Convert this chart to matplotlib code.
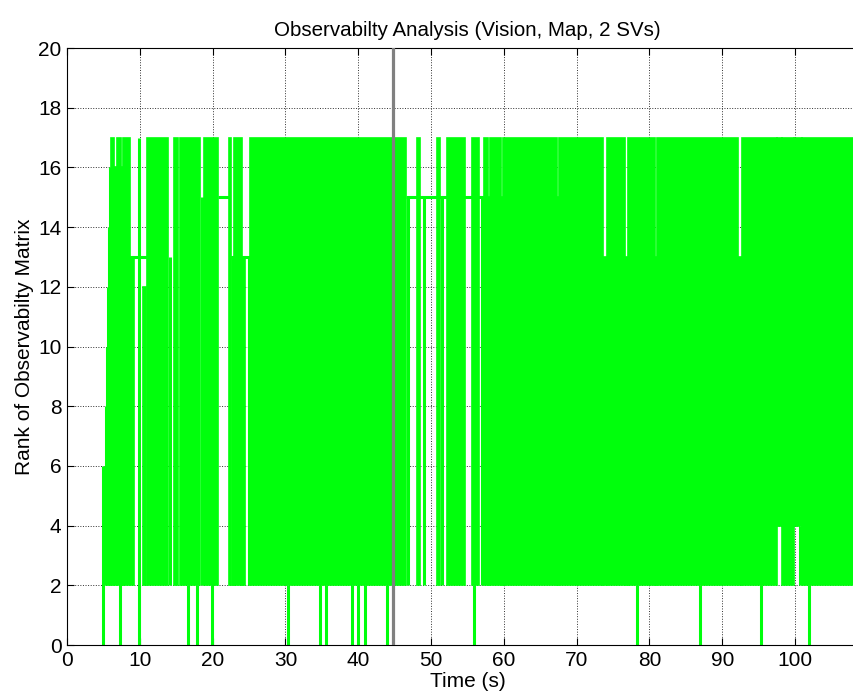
import numpy as np
import matplotlib
matplotlib.use("Agg")
import matplotlib.pyplot as plt

plt.rcParams['font.family'] = ['Liberation Sans', 'DejaVu Sans']

# rank switches fast between 2 and 17, so the dense stretches are kept as blocks (start, end, low, high)
block_start = [6.0, 6.45, 6.9, 7.45, 7.7, 8.6, 10.5, 10.95, 14.7, 15.5, 18.8, 22.3, 22.6, 23.0, 24.0,
               25.1, 48.1, 50.8, 52.2, 55.6, 57.3, 57.8, 58.1, 59.6, 59.9, 67.3, 67.6, 73.6, 74.2,
               76.7, 77.0, 80.8, 81.0, 92.2, 92.7, 97.5, 98.2, 99.9, 101.0]
block_end = [6.45, 6.9, 7.45, 7.7, 8.6, 9.2, 10.8, 13.8, 15.3, 18.3, 20.8, 22.5, 23.0, 24.0, 24.5,
             46.5, 48.5, 51.2, 54.7, 56.6, 57.8, 58.1, 59.6, 59.9, 67.3, 67.6, 73.6, 74.2, 76.7,
             77.0, 80.8, 81.0, 92.2, 92.7, 97.5, 98.2, 99.9, 101.0, 108.5]
block_low = [2, 2, 2, 2, 2, 2, 2, 2, 2, 2, 2, 2, 2, 2, 2,
             2, 2, 2, 2, 2, 2, 2, 2, 2, 2, 2, 2, 2, 2,
             2, 2, 2, 2, 2, 2, 4, 2, 4, 2]
block_high = [17, 16, 17, 16, 17, 13, 12, 17, 17, 17, 17, 17, 13, 17, 13,
              17, 17, 17, 17, 17, 17, 15, 17, 15, 17, 15, 17, 13, 17,
              13, 17, 13, 17, 13, 17, 17, 17, 17, 17]

# single isolated samples
stroke_t = [4.95, 5.2, 5.35, 5.5, 5.65, 5.8, 5.9, 9.95, 14.2, 18.55, 25.0, 46.8, 49.1, 51.5, 57.0, 100.7]
stroke_low = [0, 2, 2, 2, 2, 2, 2, 0, 2, 2, 2, 2, 2, 2, 2, 2]
stroke_high = [6, 6, 8, 10, 12, 14, 16, 17, 13, 15, 13, 15, 15, 15, 15, 4]

# flat stretches where the rank holds
flat_start = [8.6, 10.0, 20.8, 22.5, 46.5]
flat_end = [9.9, 11.0, 22.3, 25.1, 57.3]
flat_level = [13, 13, 15, 13, 15]

# dips down to zero
zero_t = [7.28, 16.55, 17.8, 19.85, 30.3, 34.8, 35.6, 39.1, 40.0, 40.9, 43.9,
          55.9, 78.3, 86.9, 95.3, 101.9]

event_t = 44.8

green = '#00ff0c'
lw = 2.2

fig = plt.figure(figsize=(8.54, 6.98), dpi=100)
ax = fig.add_axes([0.0785, 0.0759, 0.9377, 0.8553])

ax.hlines(flat_level, flat_start, flat_end, colors=green, linewidth=lw, zorder=2)
ax.bar(block_start, np.array(block_high) - np.array(block_low), width=np.array(block_end) - np.array(block_start),
       bottom=block_low, align='edge', color=green, edgecolor=green, linewidth=1.2, zorder=2)
ax.vlines(stroke_t, stroke_low, stroke_high, colors=green, linewidth=lw, zorder=2)
ax.vlines(zero_t, 0, 2, colors=green, linewidth=lw, zorder=2)
ax.axvline(event_t, color='#808080', linewidth=2.3, zorder=3)

ax.set_xlim(0, 110)
ax.set_ylim(0, 20)
ax.set_xticks(np.arange(0, 101, 10))
ax.set_yticks(np.arange(0, 21, 2))
ax.grid(True, linestyle=':', color='#303030', linewidth=0.7)
ax.set_axisbelow(True)
ax.tick_params(direction='in', length=5, labelsize=15, top=True, right=True, pad=4)
for s in ax.spines.values():
    s.set_linewidth(0.8)

ax.set_title('Observabilty Analysis (Vision, Map, 2 SVs)', fontsize=14.8, pad=9)
ax.set_xlabel('Time (s)', fontsize=15, labelpad=2)
ax.set_ylabel('Rank of Observabilty Matrix', fontsize=15, labelpad=3)

fig.savefig('out.png', dpi=100)
